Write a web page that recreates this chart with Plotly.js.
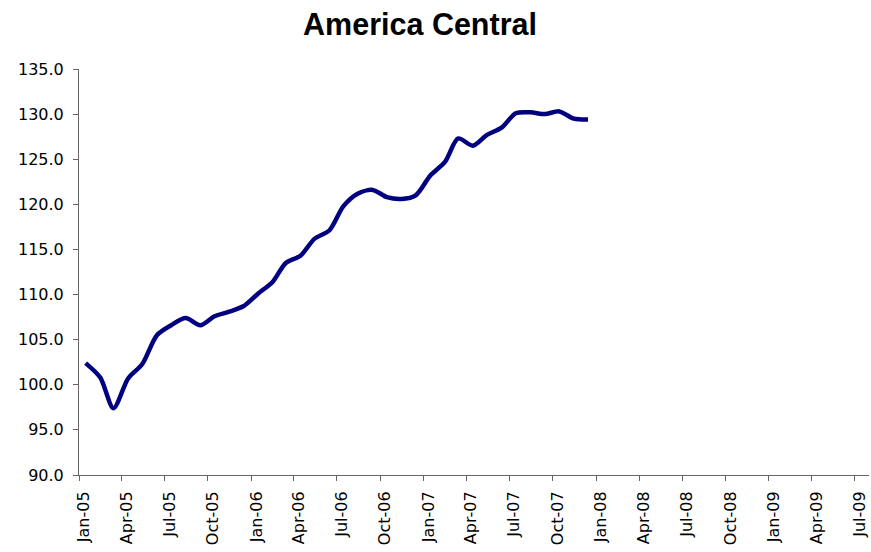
<!DOCTYPE html>
<html>
<head>
<meta charset="utf-8">
<script src="https://cdn.plot.ly/plotly-3.0.1.min.js"></script>
<style>html,body{margin:0;padding:0;background:#fff;}#chart{width:871px;height:552px;}</style>
</head>
<body>
<div id="chart"></div>
<script>
const dates = [
  "2005-01-15","2005-02-15","2005-03-15","2005-04-15","2005-05-15","2005-06-15",
  "2005-07-15","2005-08-15","2005-09-15","2005-10-15","2005-11-15","2005-12-15",
  "2006-01-15","2006-02-15","2006-03-15","2006-04-15","2006-05-15","2006-06-15",
  "2006-07-15","2006-08-15","2006-09-15","2006-10-15","2006-11-15","2006-12-15",
  "2007-01-15","2007-02-15","2007-03-15","2007-04-15","2007-05-15","2007-06-15",
  "2007-07-15","2007-08-15","2007-09-15","2007-10-15","2007-11-15","2007-12-15"
];
const values = [
  102.4, 100.8, 97.4, 100.7, 102.3, 105.5,
  106.6, 107.4, 106.6, 107.6, 108.1, 108.7,
  110.1, 111.4, 113.5, 114.3, 116.2, 117.1,
  119.8, 121.2, 121.6, 120.8, 120.6, 121.0,
  123.2, 124.7, 127.3, 126.5, 127.7, 128.5,
  130.1, 130.2, 130.0, 130.3, 129.5, 129.4
];
const chartTitle = "America Central";
const yTicks = [90, 95, 100, 105, 110, 115, 120, 125, 130, 135];

const trace = {
  x: dates, y: values, type: "scatter", mode: "lines",
  line: {color: "#000080", width: 4.5, shape: "spline", smoothing: 0.8},
  hoverinfo: "skip"
};
const layout = {
  width: 871, height: 552,
  margin: {l: 79, r: 2, t: 69, b: 77},
  paper_bgcolor: "#ffffff", plot_bgcolor: "#ffffff",
  showlegend: false,
  title: {
    text: "<b>" + chartTitle + "</b>",
    font: {family: "Liberation Sans, Arial, sans-serif", size: 30.5, color: "#000"},
    x: 420/871, xanchor: "center", xref: "container",
    y: 1 - 24/552, yanchor: "middle", yref: "container"
  },
  xaxis: {
    type: "date",
    range: ["2005-01-01", "2009-08-01"],
    tick0: "2005-01-01", dtick: "M3", tickformat: "%b-%y",
    tickangle: -90,
    ticks: "outside", ticklen: 5, tickcolor: "#666", tickwidth: 1,
    showline: true, linecolor: "#666", linewidth: 1,
    showgrid: false, zeroline: false,
    tickfont: {family: "DejaVu Sans, sans-serif", size: 16, color: "#000"},
    ticklabelstandoff: 4, ticklabelshift: 5,
    fixedrange: true
  },
  yaxis: {
    range: [90, 135],
    tickmode: "array", tickvals: yTicks,
    ticktext: yTicks.map(v => v.toFixed(1)),
    ticks: "outside", ticklen: 5, tickcolor: "#666", tickwidth: 1,
    showline: true, linecolor: "#666", linewidth: 1,
    showgrid: false, zeroline: false,
    tickfont: {family: "DejaVu Sans, sans-serif", size: 16, color: "#000"},
    ticklabelstandoff: 6,
    fixedrange: true
  }
};
Plotly.newPlot("chart", [trace], layout, {displayModeBar: false, staticPlot: true});
</script>
</body>
</html>
